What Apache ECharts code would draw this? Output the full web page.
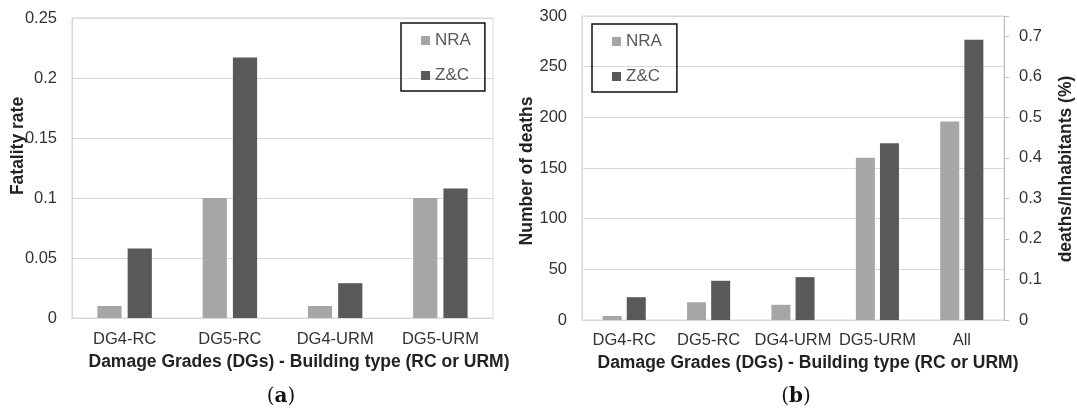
<!DOCTYPE html>
<html><head><meta charset="utf-8">
<script src="https://cdn.jsdelivr.net/npm/echarts@6/dist/echarts.min.js"></script>
<style>html,body{margin:0;padding:0;background:#fff}#c{width:1077px;height:411px}</style>
</head><body><div id="c"></div>
<script>
const seriesNames = ['NRA', 'Z&C'];
const catsA = ['DG4-RC', 'DG5-RC', 'DG4-URM', 'DG5-URM'];
const nraA = [0.01, 0.1, 0.01, 0.1];
const zcA = [0.058, 0.217, 0.029, 0.108];
const catsB = ['DG4-RC', 'DG5-RC', 'DG4-URM', 'DG5-URM', 'All'];
const nraB = [4, 17.5, 15, 160, 196];
const zcB = [22.5, 38.7, 42.3, 174.4, 276.5];
const axisA = { min: 0, max: 0.25, interval: 0.05 };
const axisB = { min: 0, max: 300, interval: 50 };
const axisB2 = { min: 0, max: 0.75, interval: 0.1 };
const rightTicks = [0, 0.1, 0.2, 0.3, 0.4, 0.5, 0.6, 0.7];
const titleA_y = 'Fatality rate';
const titleB_y = 'Number of deaths';
const titleB_y2 = 'deaths/Inhabitants (%)';
const titleX = 'Damage Grades (DGs) - Building type (RC or URM)';

const FONT = '"Liberation Sans", Arial, sans-serif';
const C_NRA = '#a6a6a6', C_ZC = '#595959', GRID = '#d9d9d9';
const labelStyle = { color: '#333', fontSize: 16.5, fontFamily: FONT };

const chart = echarts.init(document.getElementById('c'));

function legendAt(left, top, pad) {
  return {
    left: left, top: top, orient: 'vertical', data: seriesNames,
    icon: 'rect', itemWidth: 9, itemHeight: 9, itemGap: 18,
    padding: pad, borderColor: '#111', borderWidth: 1.5,
    textStyle: { color: '#595959', fontSize: 17, fontFamily: FONT },
    selectedMode: false
  };
}
function rotText(x, y, text) {
  return { type: 'text', x: x, y: y, rotation: Math.PI / 2,
    style: { text: text, fill: '#222', font: 'bold 17.5px ' + FONT,
      align: 'center', verticalAlign: 'middle', textAlign: 'center', textVerticalAlign: 'middle' } };
}
function plainText(x, y, text) {
  return { type: 'text', x: x, y: y,
    style: { text: text, fill: '#222', font: 'bold 17.5px ' + FONT,
      align: 'center', verticalAlign: 'middle', textAlign: 'center', textVerticalAlign: 'middle' } };
}
function caption(x, y, letter) {
  return { type: 'text', x: x, y: y,
    style: { text: '{p|(}{b|' + letter + '}{p|)}', fill: '#111',
      align: 'center', verticalAlign: 'middle', textAlign: 'center', textVerticalAlign: 'middle',
      rich: { p: { fontFamily: '"DejaVu Serif", "Liberation Serif", serif', fontSize: 20, fill: '#111' },
              b: { fontFamily: '"DejaVu Serif", "Liberation Serif", serif', fontSize: 20, fontWeight: 'bold', fill: '#111' } } } };
}

chart.setOption({
  animation: false,
  backgroundColor: '#fff',
  grid: [
    { left: 72, top: 18, width: 421, height: 300, show: true, borderColor: GRID, borderWidth: 1, containLabel: false },
    { left: 582, top: 16, width: 422, height: 304, show: true, borderColor: GRID, borderWidth: 1, containLabel: false }
  ],
  legend: [legendAt(401, 23, [9, 14, 7, 20]), legendAt(592, 24, [9, 15, 7, 20])],
  xAxis: [
    { type: 'category', gridIndex: 0, data: catsA,
      axisLine: { lineStyle: { color: GRID } }, axisTick: { show: false },
      axisLabel: Object.assign({ margin: 13, interval: 0 }, labelStyle) },
    { type: 'category', gridIndex: 1, data: catsB,
      axisLine: { lineStyle: { color: GRID } }, axisTick: { show: false },
      axisLabel: Object.assign({ margin: 12, interval: 0 }, labelStyle) }
  ],
  yAxis: [
    { type: 'value', gridIndex: 0, min: axisA.min, max: axisA.max, interval: axisA.interval,
      axisLine: { show: true, lineStyle: { color: GRID } }, axisTick: { show: false },
      splitLine: { lineStyle: { color: GRID } },
      axisLabel: Object.assign({ margin: 15 }, labelStyle) },
    { type: 'value', gridIndex: 1, min: axisB.min, max: axisB.max, interval: axisB.interval,
      axisLine: { show: true, lineStyle: { color: GRID } }, axisTick: { show: false },
      splitLine: { lineStyle: { color: GRID } },
      axisLabel: Object.assign({ margin: 15 }, labelStyle) },
    { type: 'value', gridIndex: 1, position: 'right', min: axisB2.min, max: axisB2.max, interval: axisB2.interval,
      axisLine: { show: true, lineStyle: { color: '#bfbfbf' } },
      axisTick: { show: true, length: 5, lineStyle: { color: '#bfbfbf' } },
      splitLine: { show: false },
      axisLabel: Object.assign({ margin: 15, customValues: rightTicks }, labelStyle) }
  ],
  series: [
    { name: seriesNames[0], type: 'bar', xAxisIndex: 0, yAxisIndex: 0, data: nraA,
      barWidth: '23%', barGap: '25%', itemStyle: { color: C_NRA } },
    { name: seriesNames[1], type: 'bar', xAxisIndex: 0, yAxisIndex: 0, data: zcA,
      barWidth: '23%', barGap: '25%', itemStyle: { color: C_ZC } },
    { name: seriesNames[0], type: 'bar', xAxisIndex: 1, yAxisIndex: 1, data: nraB,
      barWidth: '22.5%', barGap: '27%', itemStyle: { color: C_NRA } },
    { name: seriesNames[1], type: 'bar', xAxisIndex: 1, yAxisIndex: 1, data: zcB,
      barWidth: '22.5%', barGap: '27%', itemStyle: { color: C_ZC } }
  ],
  graphic: [
    rotText(18.5, 146, titleA_y),
    rotText(527, 171, titleB_y),
    rotText(1066, 169, titleB_y2),
    plainText(299, 362, titleX),
    plainText(808, 363, titleX),
    caption(281, 397, 'a'),
    caption(796, 397, 'b')
  ]
});
</script></body></html>
